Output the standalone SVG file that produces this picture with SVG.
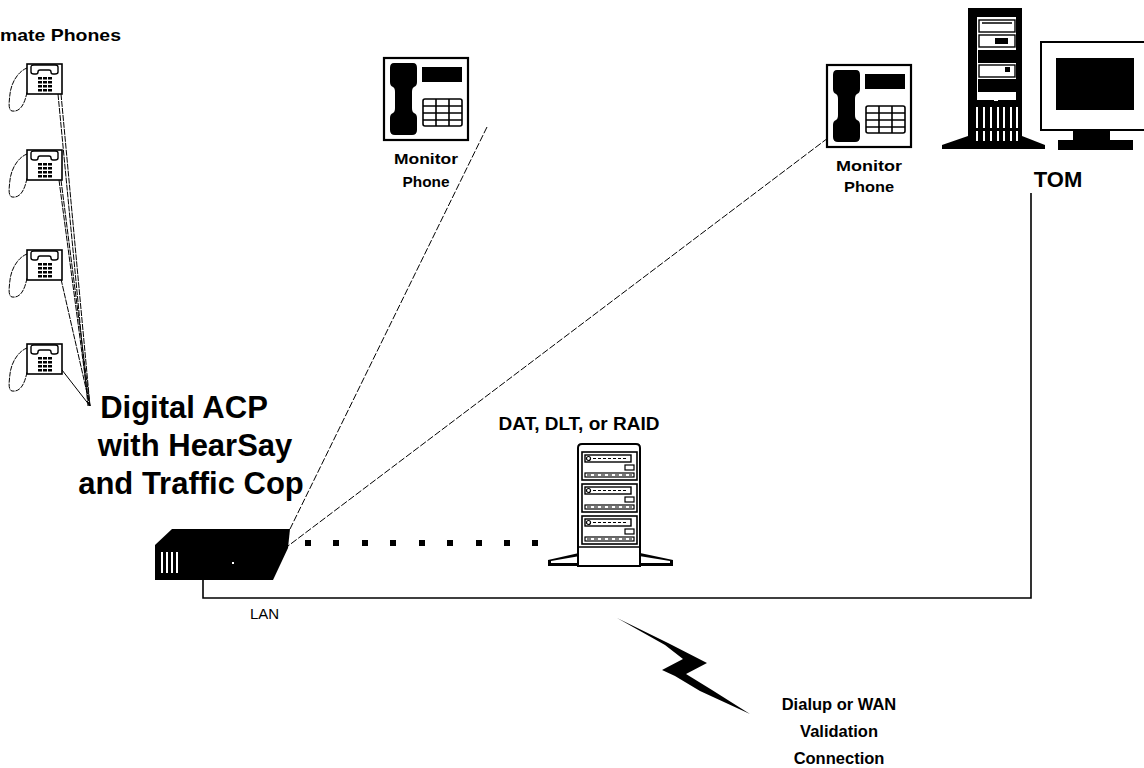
<svg xmlns="http://www.w3.org/2000/svg" xmlns:xlink="http://www.w3.org/1999/xlink" width="1144" height="768" viewBox="0 0 1144 768">
  <style>
    .lbl { font-family: "Liberation Sans", Arial, sans-serif; font-weight: bold; fill: #000; }
    .reg { font-family: "Liberation Sans", Arial, sans-serif; fill: #000; }
    .ln { stroke: #000; stroke-width: 1; fill: none; }
    .dash { stroke: #000; stroke-width: 1; fill: none; stroke-dasharray: 7 2; }
    .wire { stroke: #000; stroke-width: 1.6; fill: none; }
    .blk { fill: #000; }
  </style>
  <defs>
    <!-- small desk phone with coiled cord -->
    <symbol id="deskPhone" overflow="visible">
      <path class="ln" d="M0,4 C-10,8 -16,20 -17,30 C-18,38 -19,46 -15,47 C-9,48 -3,44 0,28" stroke-dasharray="5 1"/>
      <rect x="0" y="0" width="35" height="30" fill="#fff" stroke="#000" stroke-width="1.6"/>
      <path d="M4,3 Q4,1 7,1 H28 Q31,1 31,3 V8 Q31,10 28,10 H26 Q24,10 24,8 Q24,6 22,6 H13 Q11,6 11,8 Q11,10 9,10 H7 Q4,10 4,8 Z" fill="#fff" stroke="#000" stroke-width="1.4"/>
      <g class="blk">
        <rect x="11" y="13" width="4" height="2.5"/><rect x="16" y="13" width="4" height="2.5"/><rect x="21" y="13" width="4" height="2.5"/>
        <rect x="11" y="17" width="4" height="2.5"/><rect x="16" y="17" width="4" height="2.5"/><rect x="21" y="17" width="4" height="2.5"/>
        <rect x="11" y="21" width="4" height="2.5"/><rect x="16" y="21" width="4" height="2.5"/><rect x="21" y="21" width="4" height="2.5"/>
        <rect x="11" y="25" width="4" height="2.5"/><rect x="16" y="25" width="4" height="2.5"/><rect x="21" y="25" width="4" height="2.5"/>
      </g>
    </symbol>
    <!-- large monitor phone -->
    <symbol id="monPhone" overflow="visible">
      <rect x="0" y="0" width="84" height="82" fill="#fff" stroke="#000" stroke-width="2.2"/>
      <path class="blk" d="M10,5 H29 Q33,5 33,10 V24 Q33,28 30,29 Q28,30 28,34 V50 Q28,54 30,55 Q33,56 33,60 V72 Q33,77 28,77 H11 Q6,77 6,72 V60 Q6,56 9,55 Q11,54 11,50 V34 Q11,30 9,29 Q6,28 6,24 V10 Q6,5 10,5 Z"/>
      <rect class="blk" x="38" y="9" width="40" height="15"/>
      <g fill="none" stroke="#000" stroke-width="1.6">
        <rect x="39" y="41" width="39" height="27" rx="2"/>
        <line x1="52" y1="41" x2="52" y2="68"/>
        <line x1="65" y1="41" x2="65" y2="68"/>
        <line x1="39" y1="48" x2="78" y2="48"/>
        <line x1="39" y1="55" x2="78" y2="55"/>
        <line x1="39" y1="62" x2="78" y2="62"/>
      </g>
    </symbol>
    <!-- tape / disk drive unit -->
    <symbol id="driveUnit" overflow="visible">
      <rect x="0" y="0" width="55" height="28" fill="#fff" stroke="#000" stroke-width="1.6"/>
      <rect x="3" y="3" width="46" height="7" fill="#fff" stroke="#000" stroke-width="1.4"/>
      <circle cx="6.5" cy="6.5" r="2" fill="#fff" stroke="#000" stroke-width="1.2"/>
      <line x1="11" y1="6.5" x2="45" y2="6.5" stroke="#000" stroke-width="1" stroke-dasharray="3 2"/>
      <rect x="43" y="13" width="9" height="5" fill="#fff" stroke="#000" stroke-width="1.2"/>
      <rect x="3" y="21" width="49" height="4" fill="#fff" stroke="#000" stroke-width="1.2"/>
      <line x1="5" y1="23" x2="50" y2="23" stroke="#000" stroke-width="1" stroke-dasharray="4 3"/>
    </symbol>
  </defs>

  <!-- connectors -->
  <g id="connectors">
    <!-- station phones to the ACP -->
    <line class="ln" x1="61" y1="94" x2="90" y2="406" stroke-dasharray="6 1"/>
    <line class="ln" x1="58" y1="94" x2="88" y2="406" stroke-dasharray="6 1"/>
    <line class="ln" x1="61" y1="180" x2="90" y2="406" stroke-dasharray="6 1"/>
    <line class="ln" x1="59" y1="180" x2="89" y2="406" stroke-dasharray="6 1"/>
    <line class="ln" x1="61" y1="279" x2="90" y2="406" stroke-dasharray="6 1"/>
    <line class="ln" x1="62" y1="370" x2="90" y2="406"/>
    <!-- monitor phones to the ACP -->
    <line class="dash" x1="487" y1="127" x2="290" y2="529"/>
    <line class="dash" x1="828" y1="138" x2="288" y2="546"/>
    <!-- LAN -->
    <polyline class="wire" points="203,580 203,598 1031,598 1031,193"/>
    <!-- link to storage -->
    <g class="blk">
      <rect x="305" y="540" width="6" height="6"/>
      <rect x="333" y="540" width="6" height="6"/>
      <rect x="362" y="540" width="6" height="6"/>
      <rect x="390" y="540" width="6" height="6"/>
      <rect x="419" y="540" width="6" height="6"/>
      <rect x="447" y="540" width="6" height="6"/>
      <rect x="476" y="540" width="6" height="6"/>
      <rect x="504" y="540" width="6" height="6"/>
      <rect x="532" y="540" width="6" height="6"/>
    </g>
    <!-- dialup / WAN link -->
    <polygon class="blk" points="617,618 668,643 707,663 686,674 712,690 750,714 700,691 675,676 662,670 683,659 665,645"/>
  </g>

  <!-- station phones -->
  <g id="stationPhones">
    <text class="lbl" x="0" y="41" font-size="17" textLength="121" lengthAdjust="spacingAndGlyphs">mate Phones</text>
    <use xlink:href="#deskPhone" x="27" y="64"/>
    <use xlink:href="#deskPhone" x="27" y="150"/>
    <use xlink:href="#deskPhone" x="27" y="250"/>
    <use xlink:href="#deskPhone" x="27" y="344"/>
  </g>

  <!-- monitor phone 1 -->
  <g id="monitorPhone1">
    <use xlink:href="#monPhone" x="384" y="58"/>
    <text class="lbl" x="426" y="164" font-size="14" text-anchor="middle" textLength="64" lengthAdjust="spacingAndGlyphs">Monitor</text>
    <text class="lbl" x="426" y="187" font-size="14" text-anchor="middle" textLength="47" lengthAdjust="spacingAndGlyphs">Phone</text>
  </g>

  <!-- monitor phone 2 -->
  <g id="monitorPhone2">
    <use xlink:href="#monPhone" x="827" y="65"/>
    <text class="lbl" x="869" y="171" font-size="14" text-anchor="middle" textLength="66" lengthAdjust="spacingAndGlyphs">Monitor</text>
    <text class="lbl" x="869" y="192" font-size="14" text-anchor="middle" textLength="50" lengthAdjust="spacingAndGlyphs">Phone</text>
  </g>

  <!-- TOM workstation -->
  <g id="tom">
    <!-- tower -->
    <rect class="blk" x="968" y="8" width="54" height="132"/>
    <polygon class="blk" points="942,149 942,145 968,136 1022,136 1045,145 1045,149"/>
    <rect x="977" y="17" width="39" height="83" fill="#fff"/>
    <rect x="979" y="20" width="36" height="12" fill="#fff" stroke="#000" stroke-width="1.4"/>
    <line x1="982" y1="23" x2="1012" y2="23" stroke="#000" stroke-width="1.5"/>
    <rect x="979" y="35" width="36" height="12" fill="#fff" stroke="#000" stroke-width="1.4"/>
    <rect class="blk" x="995" y="38" width="13" height="6"/>
    <rect class="blk" x="978" y="50" width="38" height="13"/>
    <rect x="979" y="65" width="36" height="12" fill="#fff" stroke="#000" stroke-width="1.4"/>
    <rect class="blk" x="1005" y="67" width="5" height="5"/>
    <rect class="blk" x="978" y="79" width="38" height="13"/>
    <rect x="994" y="99" width="4" height="2" fill="#fff"/>
    <g fill="#fff">
      <rect x="976" y="107" width="2" height="21"/><rect x="983" y="107" width="2" height="21"/>
      <rect x="990" y="107" width="2" height="21"/><rect x="997" y="107" width="2" height="21"/>
      <rect x="1003" y="107" width="2" height="21"/><rect x="1010" y="107" width="2" height="21"/>
      <rect x="1016" y="107" width="2" height="21"/>
      <rect x="976" y="131" width="2" height="10"/><rect x="983" y="131" width="2" height="10"/>
      <rect x="990" y="131" width="2" height="10"/><rect x="997" y="131" width="2" height="10"/>
      <rect x="1003" y="131" width="2" height="10"/><rect x="1010" y="131" width="2" height="10"/>
      <rect x="1016" y="131" width="2" height="10"/>
    </g>
    <!-- monitor -->
    <rect x="1041" y="42" width="104" height="88" fill="#fff" stroke="#000" stroke-width="2"/>
    <rect class="blk" x="1056" y="58" width="78" height="52"/>
    <rect class="blk" x="1073" y="130" width="37" height="10"/>
    <rect class="blk" x="1058" y="140" width="75" height="10"/>
    <text class="lbl" x="1058" y="187" font-size="22" text-anchor="middle">TOM</text>
  </g>

  <!-- ACP server -->
  <g id="acp">
    <text class="lbl" x="184" y="418" font-size="31" text-anchor="middle">Digital ACP</text>
    <text class="lbl" x="195" y="456" font-size="31" text-anchor="middle">with HearSay</text>
    <text class="lbl" x="191" y="494" font-size="31" text-anchor="middle">and Traffic Cop</text>
    <polygon class="blk" points="172,529 290,529 288,548 273,580 155,580 155,545"/>
    <g fill="#fff">
      <rect x="161" y="552" width="2" height="21"/>
      <rect x="166" y="552" width="2" height="21"/>
      <rect x="171" y="552" width="2" height="21"/>
      <rect x="176" y="552" width="2" height="21"/>
    </g>
    <rect x="232" y="562" width="2" height="2" fill="#fff"/>
    <text class="reg" x="250" y="619" font-size="15">LAN</text>
  </g>

  <!-- storage tower -->
  <g id="storage">
    <text class="lbl" x="579" y="430" font-size="19" text-anchor="middle">DAT, DLT, or RAID</text>
    <polygon class="blk" points="579,553 548,560 548,566 673,566 673,560 640,553"/>
    <polygon fill="#fff" points="580,556 551,561 551,563 580,563"/>
    <polygon fill="#fff" points="639,556 670,561 670,563 639,563"/>
    <path d="M578,566 V448 Q578,444 582,444 H636 Q640,444 640,448 V566 Z" fill="#fff" stroke="#000" stroke-width="2"/>
    <use xlink:href="#driveUnit" x="582" y="452"/>
    <use xlink:href="#driveUnit" x="582" y="484"/>
    <use xlink:href="#driveUnit" x="582" y="516"/>
    <line x1="578" y1="547" x2="640" y2="547" stroke="#000" stroke-width="1.6"/>
  </g>

  <!-- dialup label -->
  <g id="dialup">
    <text class="lbl" x="839" y="710" font-size="16.5" text-anchor="middle">Dialup or WAN</text>
    <text class="lbl" x="839" y="737" font-size="16.5" text-anchor="middle">Validation</text>
    <text class="lbl" x="839" y="764" font-size="16.5" text-anchor="middle">Connection</text>
  </g>
</svg>
